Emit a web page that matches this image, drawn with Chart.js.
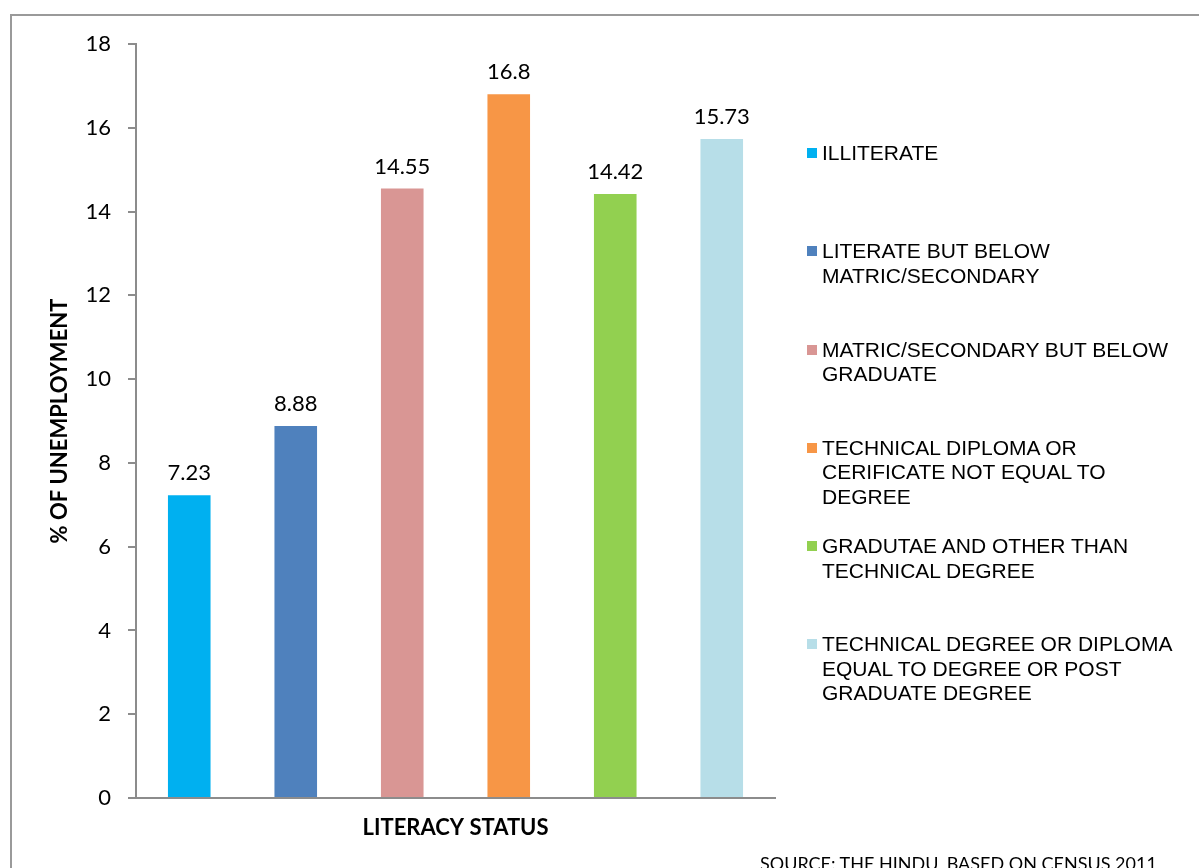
<!DOCTYPE html>
<html>
<head>
<meta charset="utf-8">
<script src="https://cdn.jsdelivr.net/npm/chart.js@4"></script>
<style>
  html, body { margin: 0; padding: 0; background: #fff; overflow: hidden; }
  #wrap { position: relative; width: 1199px; height: 868px; overflow: hidden; }
  #frame { position: absolute; left: 10px; top: 14px; width: 1400px; height: 1000px; border: 2px solid #9a9a9a; box-sizing: border-box; }
  #chartBox { position: absolute; left: 0; top: 0; width: 1199px; height: 868px; }
  #legend { position: absolute; left: 807px; top: 141px; font-family: "Liberation Sans", Arial, sans-serif; font-size: 21px; line-height: 24.5px; color: #000; }
  .leg-item { position: relative; height: 98.3px; padding-left: 15px; }
  .leg-box { position: absolute; left: 0; top: 7px; width: 10px; height: 10px; }
  #source { position: absolute; left: 760px; top: 852px; font-family: Lato, "Open Sans", sans-serif; font-size: 18px; color: #000; white-space: nowrap; }
</style>
</head>
<body>
<div id="wrap">
  <div id="frame"></div>
  <div id="chartBox"><canvas id="chart" width="1199" height="868"></canvas></div>
  <div id="legend"></div>
  <div id="source">SOURCE: THE HINDU, BASED ON CENSUS 2011</div>
</div>
<script>
/* ============ DATA ============ */
const categories = [
  ['ILLITERATE'],
  ['LITERATE BUT BELOW', 'MATRIC/SECONDARY'],
  ['MATRIC/SECONDARY BUT BELOW', 'GRADUATE'],
  ['TECHNICAL DIPLOMA OR', 'CERIFICATE NOT EQUAL TO', 'DEGREE'],
  ['GRADUTAE AND OTHER THAN', 'TECHNICAL DEGREE'],
  ['TECHNICAL DEGREE OR DIPLOMA', 'EQUAL TO DEGREE OR POST', 'GRADUATE DEGREE']
];
const unemployment = [7.23, 8.88, 14.55, 16.8, 14.42, 15.73];
const barColors = ['#00B0F0', '#4F81BD', '#D99694', '#F79646', '#92D050', '#B7DEE8'];
const yTicks = [0, 2, 4, 6, 8, 10, 12, 14, 16, 18];

/* ============ STYLE ============ */
const axisColor = '#8c8c8c';
const tickFont = { family: 'Lato, "Open Sans", sans-serif', size: 22 };

/* ============ VALUE LABELS ============ */
const valueLabels = {
  id: 'valueLabels',
  afterDatasetsDraw(chart) {
    const ctx = chart.ctx;
    const meta = chart.getDatasetMeta(0);
    ctx.save();
    ctx.font = `${tickFont.size}px ${tickFont.family}`;
    ctx.fillStyle = '#000';
    ctx.textAlign = 'center';
    ctx.textBaseline = 'bottom';
    meta.data.forEach((bar, i) => {
      ctx.fillText(String(unemployment[i]), bar.x, bar.y - 11);
    });
    ctx.restore();
  }
};

/* ============ CHART ============ */
new Chart(document.getElementById('chart'), {
  type: 'bar',
  data: {
    labels: categories.map(c => c.join(' ')),
    datasets: [{
      data: unemployment,
      backgroundColor: barColors,
      borderWidth: 0,
      barPercentage: 0.4,
      categoryPercentage: 1
    }]
  },
  options: {
    responsive: false,
    animation: false,
    layout: { padding: { left: 0, right: 424, top: 44, bottom: 0 } },
    plugins: { legend: { display: false }, tooltip: { enabled: false } },
    scales: {
      x: {
        grid: { display: false },
        border: { display: true, color: axisColor, width: 2 },
        ticks: { display: false },
        title: {
          display: true,
          text: 'LITERACY STATUS',
          color: '#000',
          font: { family: tickFont.family, size: 22, weight: 'bold' },
          padding: { top: 0, bottom: 27 }
        },
        afterFit: s => { s.height = 70; }
      },
      y: {
        min: 0,
        max: 18,
        afterBuildTicks: s => { s.ticks = yTicks.map(v => ({ value: v })); },
        grid: { drawOnChartArea: false, drawTicks: true, tickLength: 8, color: axisColor, lineWidth: 2 },
        border: { display: true, color: axisColor, width: 2 },
        ticks: { color: '#000', font: tickFont, padding: 17 },
        title: {
          display: true,
          text: '% OF UNEMPLOYMENT',
          color: '#000',
          font: { family: tickFont.family, size: 22, weight: 'bold' },
          padding: { top: 47, bottom: 0 }
        },
        afterFit: s => { s.width = 136; }
      }
    }
  },
  plugins: [valueLabels]
});

/* ============ LEGEND ============ */
document.getElementById('legend').innerHTML = categories.map((lines, i) => `
  <div class="leg-item">
    <span class="leg-box" style="background:${barColors[i]}"></span>
    ${lines.join('<br>')}
  </div>
`).join('');
</script>
</body>
</html>
